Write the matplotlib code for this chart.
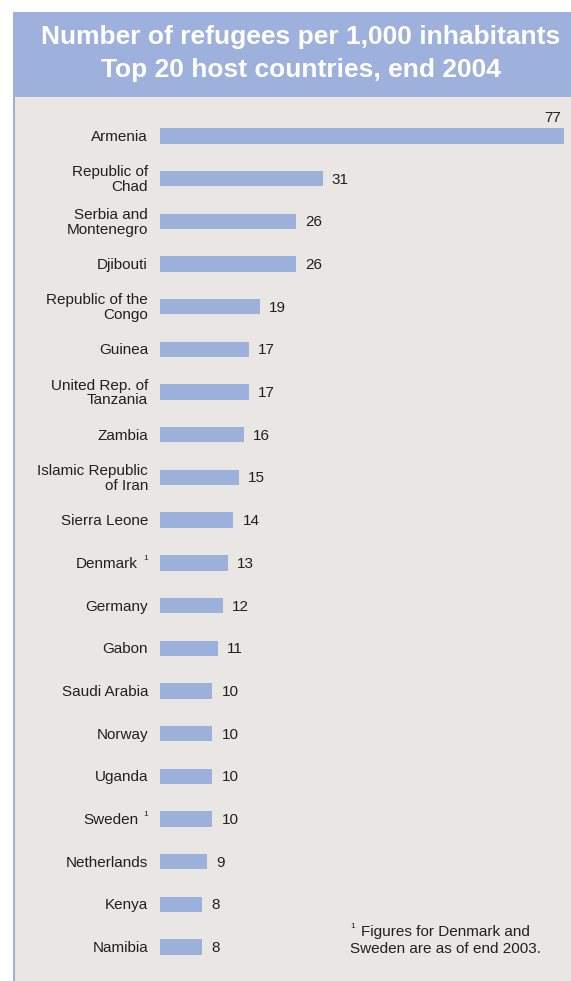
import matplotlib.pyplot as plt
from matplotlib.patches import Rectangle
from matplotlib.transforms import blended_transform_factory, offset_copy

countries = ['Armenia', 'Republic of\nChad', 'Serbia and\nMontenegro', 'Djibouti',
             'Republic of the\nCongo', 'Guinea', 'United Rep. of\nTanzania', 'Zambia',
             'Islamic Republic\nof Iran', 'Sierra Leone', 'Denmark', 'Germany', 'Gabon',
             'Saudi Arabia', 'Norway', 'Uganda', 'Sweden', 'Netherlands', 'Kenya', 'Namibia']
values = [77, 31, 26, 26, 19, 17, 17, 16, 15, 14, 13, 12, 11, 10, 10, 10, 10, 9, 8, 8]
footnoted = ['Denmark', 'Sweden']

title_lines = ['Number of refugees per 1,000 inhabitants', 'Top 20 host countries, end 2004']
footnote_lines = ['Figures for Denmark and', 'Sweden are as of end 2003.']

bar_color = '#9bb0da'
banner_color = '#9db1dc'
panel_color = '#e9e6e3'
text_color = '#231f20'
font = 'Liberation Sans'
fs = 11

W, H = 571, 981
fig = plt.figure(figsize=(W / 100, H / 100), dpi=100)
fig.patch.set_facecolor('white')

# grey panel, blue banner, blue left rule
fig.add_artist(Rectangle((15 / W, 0), 1, 1 - 97 / H, transform=fig.transFigure,
                         facecolor=panel_color, edgecolor='none', zorder=0))
fig.add_artist(Rectangle((13 / W, 1 - 97 / H), 1, 85 / H, transform=fig.transFigure,
                         facecolor=banner_color, edgecolor='none', zorder=0))
fig.add_artist(Rectangle((13 / W, 0), 2 / W, 1 - 97 / H, transform=fig.transFigure,
                         facecolor=banner_color, edgecolor='none', zorder=0))
for line, y in zip(title_lines, [37, 70]):
    fig.text(301 / W, 1 - y / H, line, ha='center', va='center', color='white',
             fontsize=19, fontweight='bold', family=font)

top, bottom = 114.65, 968.35
ax = fig.add_axes([160 / W, 1 - bottom / H, (564 - 160) / W, (bottom - top) / H])
ax.set_facecolor('none')
pos = list(range(len(countries)))
ax.barh(pos, values, height=0.36, color=bar_color, zorder=2)
ax.set_xlim(0, 77)
ax.set_ylim(len(countries) - 0.5, -0.5)
ax.axis('off')

trans = blended_transform_factory(ax.transAxes, ax.transData)
for i, (name, v) in enumerate(zip(countries, values)):
    if name in footnoted:
        ax.text(0, i, name, transform=offset_copy(trans, fig=fig, x=-22, y=-1, units='dots'),
                ha='right', va='center', fontsize=fs, family=font, color=text_color)
        ax.text(0, i, '1', transform=offset_copy(trans, fig=fig, x=-12, y=4, units='dots'),
                ha='right', va='center', fontsize=6, family=font, color=text_color)
    else:
        ax.text(0, i, name, transform=offset_copy(trans, fig=fig, x=-12, y=-1, units='dots'),
                ha='right', va='center', fontsize=fs, family=font, color=text_color,
                linespacing=1.05)
    if i == 0:
        ax.text(v, i, str(v), transform=offset_copy(ax.transData, fig=fig, x=-3, y=18, units='dots'),
                ha='right', va='center', fontsize=fs, family=font, color=text_color)
    else:
        ax.text(v, i, str(v), transform=offset_copy(ax.transData, fig=fig, x=9, y=-1, units='dots'),
                ha='left', va='center', fontsize=fs, family=font, color=text_color)

fig.text(361 / W, 1 - 932 / H, footnote_lines[0], ha='left', va='center', fontsize=fs,
         family=font, color=text_color)
fig.text(350 / W, 1 - 949 / H, footnote_lines[1], ha='left', va='center', fontsize=fs,
         family=font, color=text_color)
fig.text(350 / W, 1 - 927 / H, '1', ha='left', va='center', fontsize=6,
         family=font, color=text_color)

fig.savefig('out.png', dpi=100, facecolor=fig.get_facecolor())
